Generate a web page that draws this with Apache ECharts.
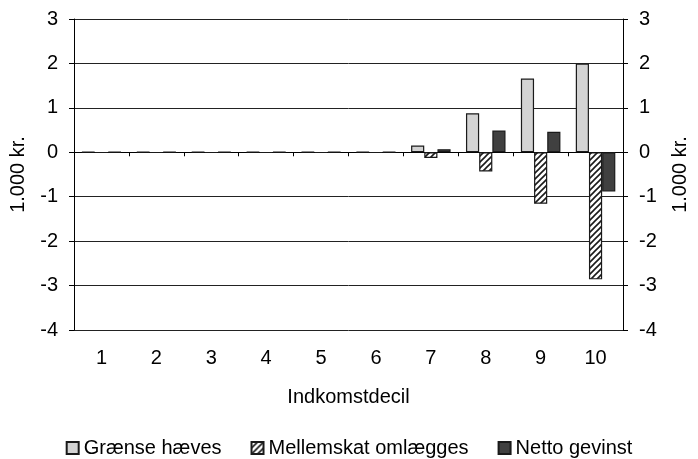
<!DOCTYPE html>
<html>
<head>
<meta charset="utf-8">
<script src="https://cdn.jsdelivr.net/npm/echarts@6/dist/echarts.min.js"></script>
<style>
html,body{margin:0;padding:0;background:#fff;}
#chart{width:698px;height:459px;}
</style>
</head>
<body>
<div id="chart"></div>
<script>
// Indkomstdeciler og ændringer i 1.000 kr.
const categories = ['1', '2', '3', '4', '5', '6', '7', '8', '9', '10'];
const graenseHaeves = [0.01, 0.01, 0.01, 0.01, 0.01, 0.01, 0.15, 0.88, 1.66, 2.0];
const mellemskatOmlaegges = [-0.01, -0.01, -0.01, -0.01, -0.01, -0.01, -0.13, -0.43, -1.16, -2.86];
const nettoGevinst = [0.01, 0.01, 0.01, 0.01, 0.01, 0.01, 0.07, 0.49, 0.46, -0.88];
const seriesNames = ['Grænse hæves', 'Mellemskat omlægges', 'Netto gevinst'];

const FONT = 'Liberation Sans, Arial, sans-serif';
const FS = 20;

// Diagonal hatch fill for the middle series
function hatchPattern() {
  const c = document.createElement('canvas');
  c.width = 6; c.height = 6;
  const ctx = c.getContext('2d');
  ctx.fillStyle = '#ffffff';
  ctx.fillRect(0, 0, 6, 6);
  ctx.strokeStyle = '#1a1a1a';
  ctx.lineWidth = 1.6;
  ctx.beginPath();
  ctx.moveTo(-1, 7); ctx.lineTo(7, -1);
  ctx.moveTo(-4, 4); ctx.lineTo(4, -4);
  ctx.moveTo(2, 10); ctx.lineTo(10, 2);
  ctx.stroke();
  return c;
}
const hatch = { image: hatchPattern(), repeat: 'repeat' };

const chart = echarts.init(document.getElementById('chart'), null, { renderer: 'canvas' });

const yAxisCommon = {
  type: 'value',
  min: -4, max: 3, interval: 1,
  name: '1.000 kr.',
  nameLocation: 'middle',
  nameRotate: 90,
  nameTextStyle: { fontFamily: FONT, fontSize: FS, color: '#000' },
  axisLine: { show: true, lineStyle: { color: '#000', width: 1 } },
  axisTick: { show: true, length: 5, lineStyle: { color: '#000' } },
  axisLabel: { fontFamily: FONT, fontSize: FS, color: '#000', margin: 16 },
};

const barCommon = {
  type: 'bar',
  xAxisIndex: 0,
  barGap: '0%',
  barCategoryGap: '28%',
  itemStyle: { borderColor: '#1a1a1a', borderWidth: 1.2 },
};

chart.setOption({
  animation: false,
  backgroundColor: '#fff',
  grid: { left: 73, right: 70, top: 19, bottom: 129, containLabel: false },
  legend: {
    top: 433,
    left: 'center',
    itemWidth: 12,
    itemHeight: 12,
    itemGap: 29,
    icon: 'rect',
    textStyle: { fontFamily: FONT, fontSize: FS, color: '#000' },
    data: seriesNames,
  },
  xAxis: [
    {
      type: 'category',
      data: categories,
      position: 'bottom',
      name: 'Indkomstdecil',
      nameLocation: 'middle',
      nameGap: 57,
      nameTextStyle: { fontFamily: FONT, fontSize: FS, color: '#000' },
      axisLine: { show: false, onZero: false },
      axisTick: { show: false },
      axisLabel: { fontFamily: FONT, fontSize: FS, color: '#000', margin: 18 },
    },
    {
      type: 'category',
      data: categories,
      position: 'bottom',
      axisLine: { show: true, onZero: true, lineStyle: { color: '#000', width: 1 } },
      axisTick: { show: true, length: 4, lineStyle: { color: '#000' } },
      axisLabel: { show: false },
    },
  ],
  yAxis: [
    Object.assign({}, yAxisCommon, {
      position: 'left',
      nameGap: 46,
      splitLine: { show: true, lineStyle: { color: '#222', width: 1 } },
    }),
    Object.assign({}, yAxisCommon, {
      position: 'right',
      nameGap: 47,
      splitLine: { show: false },
    }),
  ],
  series: [
    Object.assign({}, barCommon, {
      name: seriesNames[0],
      data: graenseHaeves,
      itemStyle: Object.assign({}, barCommon.itemStyle, { color: '#d3d3d3' }),
    }),
    Object.assign({}, barCommon, {
      name: seriesNames[1],
      data: mellemskatOmlaegges,
      itemStyle: Object.assign({}, barCommon.itemStyle, { color: hatch }),
    }),
    Object.assign({}, barCommon, {
      name: seriesNames[2],
      data: nettoGevinst,
      itemStyle: Object.assign({}, barCommon.itemStyle, { color: '#404040' }),
    }),
  ],
});
</script>
</body>
</html>
